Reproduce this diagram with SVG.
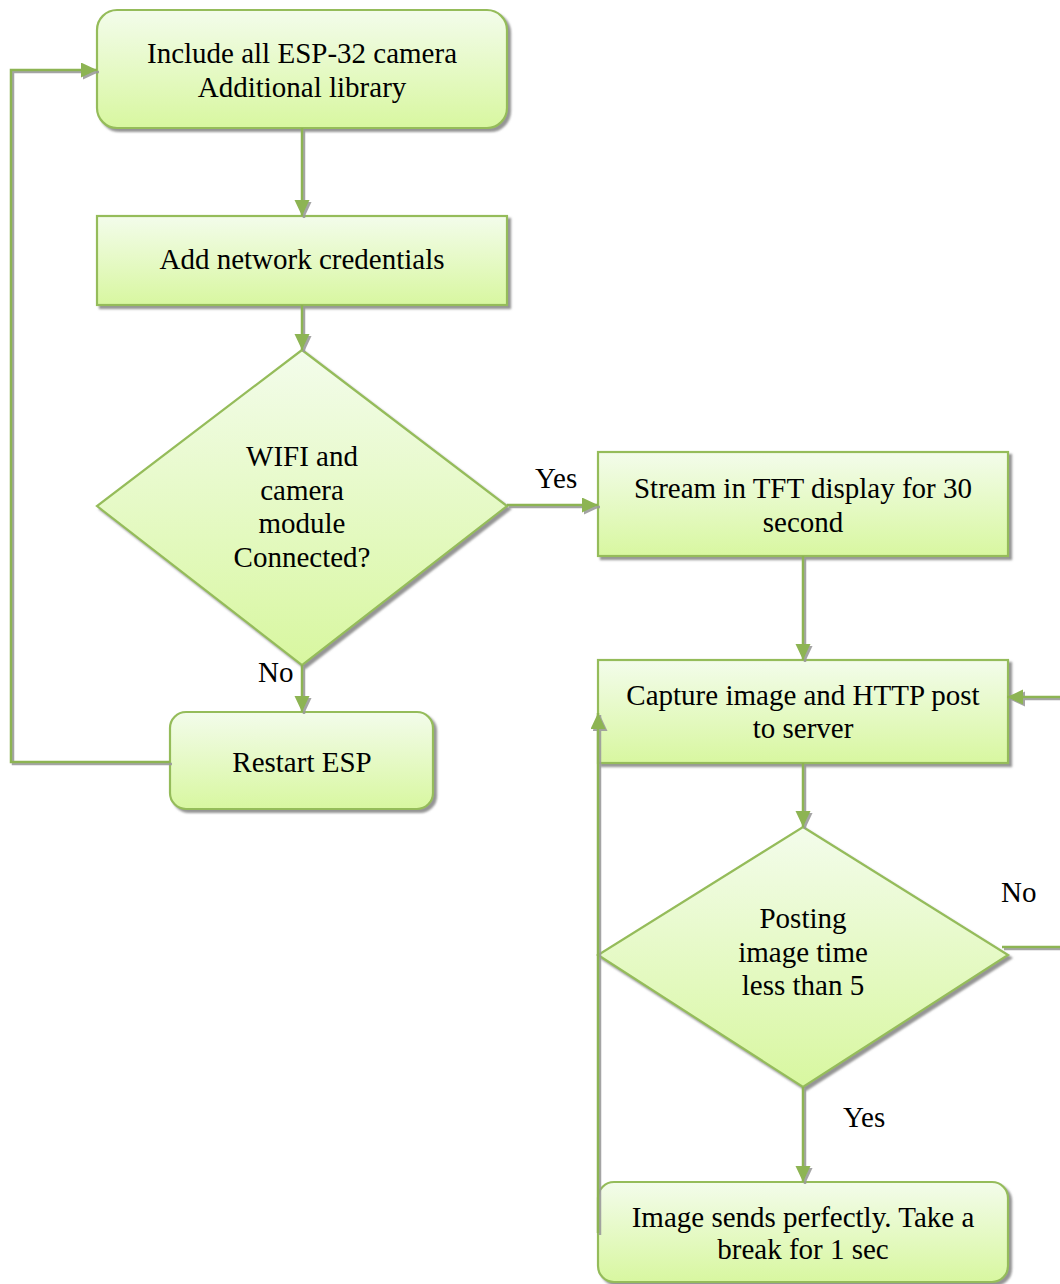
<svg xmlns="http://www.w3.org/2000/svg" width="1060" height="1284" viewBox="0 0 1060 1284">
<defs>
<linearGradient id="g" x1="0" y1="0" x2="0" y2="1">
<stop offset="0" stop-color="#F3FCEB"/>
<stop offset="1" stop-color="#D8F7A0"/>
</linearGradient>
<filter id="sh" x="-10%" y="-10%" width="130%" height="130%">
<feDropShadow dx="3" dy="3" stdDeviation="1.2" flood-color="#7a7a7a" flood-opacity="0.8"/>
</filter>
<filter id="lsh" x="-10%" y="-10%" width="130%" height="130%">
<feDropShadow dx="2" dy="2" stdDeviation="0.6" flood-color="#9a9a9a" flood-opacity="0.9"/>
</filter>
<marker id="ah" markerUnits="userSpaceOnUse" markerWidth="17" markerHeight="16" refX="16" refY="7.5" orient="auto">
<path d="M0,0 L16,7.5 L0,15 z" fill="#8DB452"/>
</marker>
</defs>
<style>
.node{fill:url(#g);stroke:#95BC5A;stroke-width:2.2;filter:url(#sh)}
.t{font-family:"Liberation Serif","Times New Roman",serif;font-size:29px;fill:#000;text-anchor:middle}
.lbl{font-family:"Liberation Serif","Times New Roman",serif;font-size:29px;fill:#000}
.c{fill:none;stroke:#8DB452;stroke-width:2.5;marker-end:url(#ah)}
</style>
<rect width="1060" height="1284" fill="#fff"/>
<g id="include">
<rect class="node" x="97" y="10" width="410" height="118" rx="20"/>
<text class="t" x="302" y="63">Include all ESP-32 camera</text>
<text class="t" x="302" y="97">Additional library</text>
</g>
<g id="credentials">
<rect class="node" x="97" y="216" width="410" height="89"/>
<text class="t" x="302" y="269">Add network credentials</text>
</g>
<g id="wifi">
<polygon class="node" points="302,350 507,506 302,665 97,506"/>
<text class="t" x="302" y="466">WIFI and</text>
<text class="t" x="302" y="500">camera</text>
<text class="t" x="302" y="533">module</text>
<text class="t" x="302" y="567">Connected?</text>
</g>
<g id="restart">
<rect class="node" x="170" y="712" width="263" height="97" rx="16"/>
<text class="t" x="302" y="772">Restart ESP</text>
</g>
<g id="stream">
<rect class="node" x="598" y="452" width="410" height="104"/>
<text class="t" x="803" y="498">Stream in TFT display for 30</text>
<text class="t" x="803" y="532">second</text>
</g>
<g id="capture">
<rect class="node" x="598" y="660" width="410" height="103"/>
<text class="t" x="803" y="705">Capture image and HTTP post</text>
<text class="t" x="803" y="738">to server</text>
</g>
<g id="posting">
<polygon class="node" points="803,827 1008,955 803,1087 598,955"/>
<text class="t" x="803" y="928">Posting</text>
<text class="t" x="803" y="962">image time</text>
<text class="t" x="803" y="995">less than 5</text>
</g>
<g id="sends">
<rect class="node" x="598" y="1182" width="410" height="100" rx="16"/>
<text class="t" x="803" y="1227">Image sends perfectly. Take a</text>
<text class="t" x="803" y="1259">break for 1 sec</text>
</g>
<g id="connectors" filter="url(#lsh)">
<path class="c" d="M302,128 V216"/>
<path class="c" d="M302,305 V350"/>
<path class="c" d="M507,505 H598"/>
<path class="c" d="M302,665 V712"/>
<path class="c" d="M170,762 H11 V70 H97"/>
<path class="c" d="M803,556 V660"/>
<path class="c" d="M803,763 V827"/>
<path class="c" d="M1002,947 H1075 V697 H1007"/>
<path class="c" d="M803,1087 V1182"/>
<path class="c" d="M598,1233 V713"/>
</g>
<g id="labels">
<text class="lbl" x="535" y="488">Yes</text>
<text class="lbl" x="258" y="682">No</text>
<text class="lbl" x="1001" y="902">No</text>
<text class="lbl" x="843" y="1127">Yes</text>
</g>
</svg>
